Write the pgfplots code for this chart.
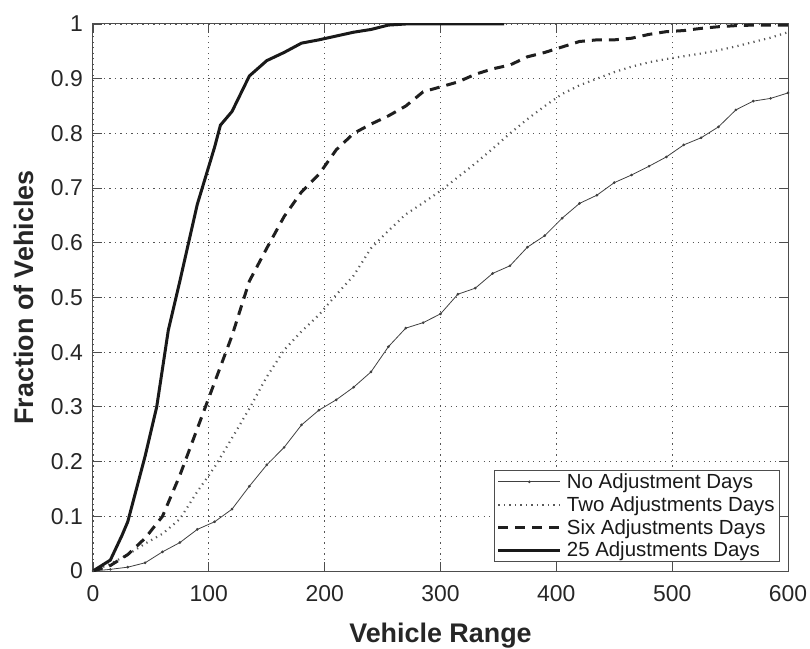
\documentclass[border=0pt]{standalone}
\usepackage{fontspec}
\setmainfont{Liberation Sans}
\usepackage{pgfplots}
\pgfplotsset{compat=1.18}

\definecolor{frame}{HTML}{4D4D4D}
\definecolor{gridc}{HTML}{555555}

\begin{document}
\begin{tikzpicture}
\begin{axis}[
  scale only axis,
  width=695bp, height=547bp,
  xmin=0, xmax=600, ymin=0, ymax=1,
  xtick={0,100,...,600},
  ytick={0,0.1,...,1.01},
  yticklabels={0,0.1,0.2,0.3,0.4,0.5,0.6,0.7,0.8,0.9,1},
  tick align=inside,
  major tick length=9bp,
  tick style={frame, line width=0.8bp},
  axis line style={frame, line width=1bp},
  xmajorgrids, ymajorgrids,
  grid style={gridc, line width=0.9bp, dash pattern=on 1.3bp off 4.2bp},
  /pgf/number format/assume math mode=true,
  every tick label/.append style={font=\fontsize{23}{27}\selectfont, text=black!85, inner sep=0pt},
  xticklabel shift=14bp,
  yticklabel shift=10bp,
  xlabel={\textbf{Vehicle Range}},
  ylabel={\textbf{Fraction of Vehicles}},
  label style={font=\fontsize{27}{32}\selectfont, text=black!85},
  xlabel style={at={(axis description cs:0.5,-0.1316)}, anchor=base},
  ylabel style={at={(axis description cs:-0.0863,0.5)}, anchor=base},
  legend cell align=left,
  legend style={at={(0.9885,0.017)}, anchor=south east,
    draw=frame, line width=0.8bp,
    font=\fontsize{20.5}{24}\selectfont, text=black!90,
    inner xsep=3bp, inner ysep=1bp, row sep=2.5bp, column sep=3bp},
  legend image code/.code={\draw[mark repeat=2,mark phase=2,#1] plot coordinates {(0bp,0bp) (31bp,0bp) (62bp,0bp)};},
]

% No Adjustment Days
\addplot[color=black!75, line width=0.8bp, mark=*, mark size=0.9bp] coordinates {
  (0,0)(15,0.003)(30,0.007)(45,0.015)(60,0.035)(75,0.052)(90,0.076)(105,0.09)
  (120,0.113)(135,0.155)(150,0.194)(165,0.226)(180,0.267)(195,0.294)(210,0.313)
  (225,0.336)(240,0.364)(255,0.41)(270,0.444)(285,0.454)(300,0.47)(315,0.506)
  (330,0.517)(345,0.544)(360,0.558)(375,0.592)(390,0.613)(405,0.645)(420,0.672)
  (435,0.687)(450,0.710)(465,0.724)(480,0.740)(495,0.757)(510,0.779)(525,0.792)
  (540,0.812)(555,0.843)(570,0.859)(585,0.864)(600,0.874)
};

% Two Adjustments Days
\addplot[color=black!65, line width=2.2bp, dash pattern=on 1.2bp off 4.3bp] coordinates {
  (0,0)(15,0.013)(30,0.03)(45,0.05)(60,0.068)(75,0.095)(90,0.145)(105,0.19)
  (120,0.243)(135,0.297)(150,0.355)(165,0.404)(180,0.438)(195,0.468)(210,0.505)
  (225,0.54)(240,0.59)(255,0.622)(270,0.652)(285,0.673)(300,0.695)(315,0.72)
  (330,0.745)(345,0.772)(360,0.80)(375,0.826)(390,0.85)(405,0.872)(420,0.888)
  (435,0.9)(450,0.912)(465,0.922)(480,0.93)(495,0.936)(510,0.941)(525,0.946)
  (540,0.952)(555,0.959)(570,0.967)(585,0.975)(600,0.985)
};

% Six Adjustments Days
\addplot[color=black!88, line width=3bp, dash pattern=on 10bp off 7bp] coordinates {
  (0,0)(15,0.01)(30,0.03)(45,0.06)(60,0.10)(75,0.175)(90,0.26)(105,0.345)
  (120,0.43)(135,0.53)(150,0.59)(165,0.648)(180,0.693)(195,0.725)(210,0.77)
  (225,0.80)(240,0.817)(255,0.832)(270,0.85)(285,0.876)(300,0.885)(315,0.894)
  (330,0.908)(345,0.918)(360,0.925)(375,0.94)(390,0.948)(405,0.958)(420,0.968)
  (435,0.971)(450,0.971)(465,0.974)(480,0.981)(495,0.986)(510,0.988)(525,0.992)
  (540,0.995)(555,0.997)(570,0.998)(585,0.998)(600,0.998)
};

% 25 Adjustments Days
\addplot[color=black!90, line width=3bp] coordinates {
  (0,0)(15,0.02)(25,0.065)(30,0.09)(35,0.13)(45,0.21)(55,0.30)(60,0.37)(65,0.44)
  (75,0.53)(90,0.67)(105,0.775)(110,0.815)(120,0.84)(135,0.905)(150,0.933)
  (165,0.948)(180,0.965)(195,0.971)(210,0.978)(225,0.985)(240,0.99)(255,0.998)
  (270,1)(285,1)(300,1)(315,1)(330,1)(345,1)(355,1)
};

\legend{No Adjustment Days, Two Adjustments Days, Six Adjustments Days, 25 Adjustments Days}
\end{axis}
\pgfresetboundingbox
\path[use as bounding box] (-93bp,-78bp) rectangle (717bp,571bp);
\end{tikzpicture}
\end{document}
